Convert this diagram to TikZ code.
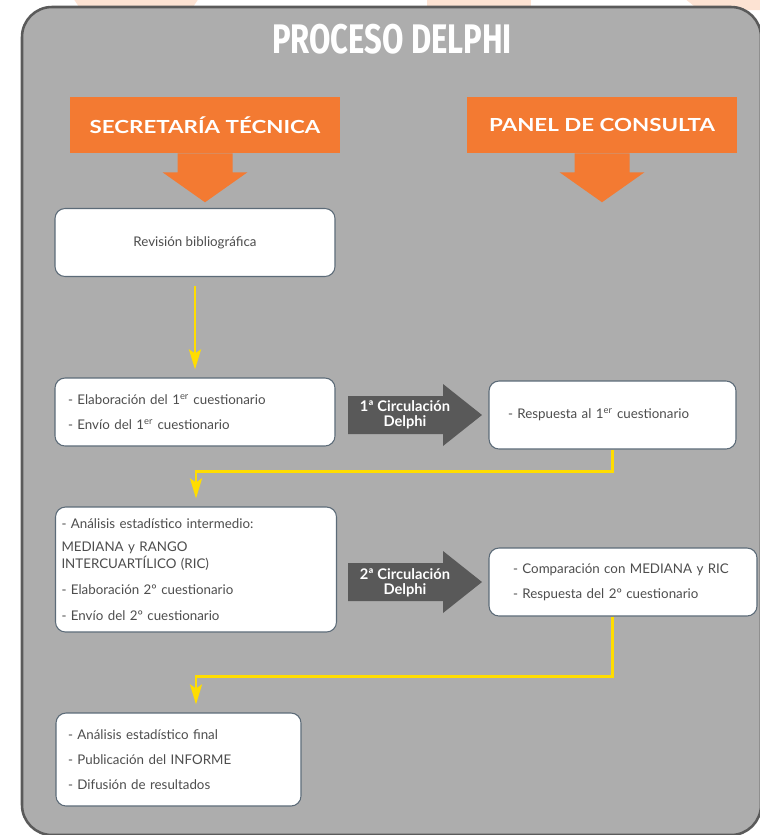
\documentclass[tikz,border=0pt]{standalone}
\usepackage{fontspec}
\usepackage{graphicx}
\setmainfont{Lato}
\newfontfamily\titlefont{Fira Sans}
\usetikzlibrary{arrows.meta}

\definecolor{peach}{HTML}{FDE3D3}
\definecolor{panelgrey}{HTML}{ADADAD}
\definecolor{paneledge}{HTML}{5A5A5A}
\definecolor{delphiorange}{HTML}{F37A32}
\definecolor{circgrey}{HTML}{595959}
\definecolor{linkyellow}{HTML}{FFDD00}
\definecolor{boxedge}{HTML}{5C6B78}
\definecolor{textgrey}{HTML}{4D4D4D}

\begin{document}
\begin{tikzpicture}[x=0.75pt,y=-0.75pt]
    \tikzstyle{header}=[fill=delphiorange,text=white,font=\fontsize{13.5}{15}\selectfont\bfseries,minimum width=202.5pt,minimum height=42pt]
    \tikzstyle{stage}=[draw=boxedge,fill=white,rounded corners=7.5pt,line width=0.8pt,text=textgrey,font=\fontsize{10}{18.75}\selectfont,align=left,inner ysep=0pt,minimum height=51pt]
    \tikzstyle{circ label}=[text=white,font=\fontsize{11}{11.25}\selectfont\bfseries,align=center]
    \tikzstyle{link}=[draw=linkyellow,line width=1.9pt,-{Stealth[width=9pt,length=15pt,inset=3pt]},shorten >=6pt]

    \useasboundingbox (0,0) rectangle (760,835);

    % Background panel
    \fill[peach] (73,-2) -- (199,-2) -- (191,10) -- (81,10) -- cycle;
    \fill[peach] (427,-2) rectangle (531,10);
    \fill[peach] (684,-2) -- (762,-2) -- (762,10) -- (699,10) -- cycle;
    \draw[fill=panelgrey,draw=paneledge,line width=1.9pt,rounded corners=22.5pt] (22,7) rectangle (761,835);
    \node[text=white,font=\titlefont\fontsize{31}{31}\selectfont\bfseries] (title) at (392,39) {\scalebox{0.75}[1]{PROCESO DELPHI}};

    % Draw the two headers
    \node[header] (H1) at (205,125) {\scalebox{1.24}[1]{SECRETARÍA TÉCNICA}};
    \node[header] (H2) at (602,125) {\scalebox{1.24}[1]{PANEL DE CONSULTA}};
    \fill[delphiorange] (H1.south) ++(-27.5,0) -- ++(0,19) -- ++(-15,0) -- ++(42.5,30) -- ++(42.5,-30) -- ++(-15,0) -- ++(0,-19) -- cycle;
    \fill[delphiorange] (H2.south) ++(-27.5,0) -- ++(0,19) -- ++(-15,0) -- ++(42.5,30) -- ++(42.5,-30) -- ++(-15,0) -- ++(0,-19) -- cycle;

    % Steps of the secretariat
    \node[stage,align=center,minimum width=210pt] (B1) at (195,242.5) {Revisión bibliográfica};
    \node[stage,text width=190.5pt,inner xsep=9.75pt] (B2) at (195,412)
        {- Elaboración del 1\textsuperscript{er} cuestionario\\- Envío del 1\textsuperscript{er} cuestionario};
    \node[stage,text width=201.75pt,inner xsep=4.5pt,minimum height=93.75pt] (B4) at (196,569.5)
        {- Análisis estadístico intermedio:\\[-1.5pt]MEDIANA y RANGO\\[-6pt]INTERCUARTÍLICO (RIC)\\[0.75pt]- Elaboración 2º cuestionario\\[0.75pt]- Envío del 2º cuestionario};
    \node[stage,text width=165.75pt,inner xsep=9pt,minimum height=69.75pt] (B6) at (178.5,759.5)
        {- Análisis estadístico final\\- Publicación del INFORME\\- Difusión de resultados};

    % Steps of the panel
    \node[stage,text width=156.75pt,inner xsep=14.25pt] (B3) at (612.5,415) {- Respuesta al 1\textsuperscript{er} cuestionario};
    \node[stage,text width=165pt,inner xsep=18pt] (B5) at (623,582)
        {- Comparación con MEDIANA y RIC\\- Respuesta del 2º cuestionario};

    % Circulation arrows
    \fill[circgrey] (348,396) -- (443,396) -- (443,384) -- (482,415) -- (443,446) -- (443,434) -- (348,434) -- cycle;
    \node[circ label] (C1) at (405,415) {1ª Circulación\\Delphi};
    \fill[circgrey] (348,563) -- (443,563) -- (443,551) -- (482,582) -- (443,613) -- (443,601) -- (348,601) -- cycle;
    \node[circ label] (C2) at (405,583) {2ª Circulación\\Delphi};

    % Connect the steps
    \draw[link,shorten <=6.75pt] (B1.south) -- (B2.north);
    \draw[link] (B3.south) -- ++(0,22) -| (B4.north);
    \draw[link] (B5.south -| B3.south) -- ++(0,60) -| (B6.north -| B4.north);
\end{tikzpicture}
\end{document}
